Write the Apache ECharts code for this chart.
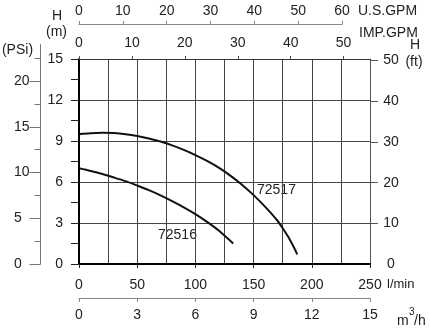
<!DOCTYPE html>
<html>
<head>
<meta charset="utf-8">
<script src="https://cdn.jsdelivr.net/npm/echarts@6/dist/echarts.min.js"></script>
<style>
html,body{margin:0;padding:0;background:#fff;}
#c{width:430px;height:330px;}
</style>
</head>
<body>
<div id="c"></div>
<script>
// ---- data ----
const flow72517 = [0, 10, 20, 30, 40, 50, 60, 70, 80, 90, 100, 110, 120, 130, 140, 150, 160, 170, 175, 180, 185, 187.5];
const head72517 = [9.5, 9.57, 9.6, 9.58, 9.5, 9.37, 9.19, 8.96, 8.68, 8.35, 7.97, 7.54, 7.05, 6.47, 5.8, 5.04, 4.18, 3.22, 2.62, 1.95, 1.15, 0.7];
const flow72516 = [0, 10, 20, 30, 40, 50, 60, 70, 80, 90, 100, 110, 120, 132.5];
const head72516 = [7.0, 6.8, 6.58, 6.33, 6.06, 5.74, 5.4, 5.02, 4.6, 4.15, 3.65, 3.08, 2.45, 1.5];
const seriesNames = ['72517', '72516'];

const lminTicks = [0, 50, 100, 150, 200, 250];
const m3hTicks = [0, 3, 6, 9, 12, 15];
const usGpmTicks = [0, 10, 20, 30, 40, 50, 60];
const impGpmTicks = [0, 10, 20, 30, 40, 50];
const headMTicks = [0, 3, 6, 9, 12, 15];
const psiTicks = [0, 5, 10, 15, 20];
const psiMinorTicks = [2.5, 7.5, 12.5, 17.5, 22.5];
const ftTicks = [0, 10, 20, 30, 40, 50];

// ---- chart ----
const FONT = 'Liberation Sans, Arial, sans-serif';
const TXT = '#222';
const lbl = (extra) => Object.assign({fontSize: 14, fontFamily: FONT, color: TXT}, extra);
const last = a => a[a.length - 1];

const chart = echarts.init(document.getElementById('c'), null, {renderer: 'canvas'});

function txt(text, x, y, align, size) {
  return {type: 'text', x: x, y: y, silent: true,
    style: {text: text, fontSize: size || 14, fontFamily: FONT, fill: TXT,
      align: align || 'left', verticalAlign: 'middle'}};
}

const option = {
  animation: false,
  backgroundColor: '#fff',
  grid: [
    {left: 79, top: 59, width: 291, height: 205},
    {left: 79, top: 24.5, width: 263, height: 10},
    {left: 40.5, top: 44.6, width: 10, height: 219.4}
  ],
  xAxis: [
    { // 0 l/min
      gridIndex: 0, type: 'value', position: 'bottom',
      min: lminTicks[0], max: last(lminTicks), interval: lminTicks[1] - lminTicks[0],
      axisLine: {onZero: false, lineStyle: {color: '#000', width: 2}},
      axisTick: {length: 4, lineStyle: {color: '#222'}},
      axisLabel: lbl({margin: 14}),
      splitLine: {show: false}
    },
    { // 1 vertical grid lines
      gridIndex: 0, type: 'value', position: 'bottom',
      min: 0, max: last(lminTicks), interval: 25,
      axisLine: {show: false}, axisTick: {show: false}, axisLabel: {show: false},
      splitLine: {show: true, lineStyle: {color: '#444', width: 1}}
    },
    { // 2 m3/h
      gridIndex: 0, type: 'value', position: 'bottom', offset: 34,
      min: m3hTicks[0], max: last(m3hTicks), interval: m3hTicks[1] - m3hTicks[0],
      axisLine: {onZero: false, lineStyle: {color: '#888', width: 1}},
      axisTick: {length: 4, lineStyle: {color: '#888'}},
      axisLabel: lbl({margin: 10}),
      splitLine: {show: false}
    },
    { // 3 IMP GPM
      gridIndex: 0, type: 'value', position: 'top',
      min: 0, max: 54.99,
      axisLine: {onZero: false, lineStyle: {color: '#333', width: 1}},
      axisTick: {length: 3, customValues: impGpmTicks, lineStyle: {color: '#555'}},
      axisLabel: lbl({margin: 9, customValues: impGpmTicks}),
      splitLine: {show: false}
    },
    { // 4 US GPM
      gridIndex: 1, type: 'value', position: 'top',
      min: usGpmTicks[0], max: last(usGpmTicks), interval: usGpmTicks[1] - usGpmTicks[0],
      axisLine: {onZero: false, lineStyle: {color: '#888', width: 1}},
      axisTick: {length: 3.5, lineStyle: {color: '#888'}},
      axisLabel: lbl({margin: 6}),
      splitLine: {show: false}
    },
    { // 5 dummy for PSI grid
      gridIndex: 2, type: 'value', show: false, min: 0, max: 1
    }
  ],
  yAxis: [
    { // 0 H (m)
      gridIndex: 0, type: 'value', position: 'left',
      min: headMTicks[0], max: last(headMTicks), interval: 1.5,
      axisLine: {onZero: false, lineStyle: {color: '#000', width: 2}},
      axisTick: {length: 8, lineStyle: {color: '#222'}},
      axisLabel: lbl({margin: 16, formatter: v => (headMTicks.indexOf(v) >= 0 ? String(v) : '')}),
      splitLine: {show: false}
    },
    { // 1 horizontal grid lines
      gridIndex: 0, type: 'value', position: 'left',
      min: 0, max: last(headMTicks), interval: headMTicks[1] - headMTicks[0],
      axisLine: {show: false}, axisTick: {show: false}, axisLabel: {show: false},
      splitLine: {show: true, lineStyle: {color: '#444', width: 1}}
    },
    { // 2 H (ft)
      gridIndex: 0, type: 'value', position: 'right',
      min: 0, max: 50.4,
      axisLine: {onZero: false, lineStyle: {color: '#555', width: 1}},
      axisTick: {length: 8, customValues: ftTicks.slice(1), lineStyle: {color: '#555'}},
      axisLabel: lbl({margin: 21, align: 'center', customValues: ftTicks}),
      splitLine: {show: false}
    },
    { // 3 dummy for US GPM grid
      gridIndex: 1, type: 'value', show: false, min: 0, max: 1
    },
    { // 4 PSI major
      gridIndex: 2, type: 'value', position: 'left',
      min: 0, max: 24,
      axisLine: {onZero: false, lineStyle: {color: '#777', width: 1}},
      axisTick: {length: 11, customValues: psiTicks, lineStyle: {color: '#777'}},
      axisLabel: lbl({margin: 26.5, align: 'left', customValues: psiTicks}),
      splitLine: {show: false}
    },
    { // 5 PSI minor
      gridIndex: 2, type: 'value', position: 'left',
      min: 0, max: 24,
      axisLine: {show: false},
      axisTick: {length: 6, customValues: psiMinorTicks, lineStyle: {color: '#777'}},
      axisLabel: {show: false},
      splitLine: {show: false}
    }
  ],
  series: [
    {
      name: seriesNames[0], type: 'line', xAxisIndex: 0, yAxisIndex: 0,
      data: flow72517.map((q, i) => [q, head72517[i]]),
      symbol: 'none', smooth: 0.3,
      lineStyle: {color: '#111', width: 2}
    },
    {
      name: seriesNames[1], type: 'line', xAxisIndex: 0, yAxisIndex: 0,
      data: flow72516.map((q, i) => [q, head72516[i]]),
      symbol: 'none', smooth: 0.3,
      lineStyle: {color: '#111', width: 2}
    }
  ],
  graphic: [
    txt('H', 57, 16, 'center'),
    txt('(m)', 56.5, 32, 'center'),
    txt('(PSi)', 17.5, 50, 'center'),
    txt('U.S.GPM', 358, 11.5, 'left'),
    txt('IMP.GPM', 359, 33, 'left'),
    txt('H', 415, 45, 'center'),
    txt('(ft)', 414, 62, 'center'),
    txt('l/min', 387, 284, 'left', 13),
    txt('m', 397, 321, 'left'),
    txt('3', 409, 312, 'left', 10),
    txt('/h', 414, 321, 'left'),
    txt(seriesNames[0], 257, 190.5, 'left'),
    txt(seriesNames[1], 158, 235.5, 'left')
  ]
};
chart.setOption(option);
</script>
</body>
</html>
